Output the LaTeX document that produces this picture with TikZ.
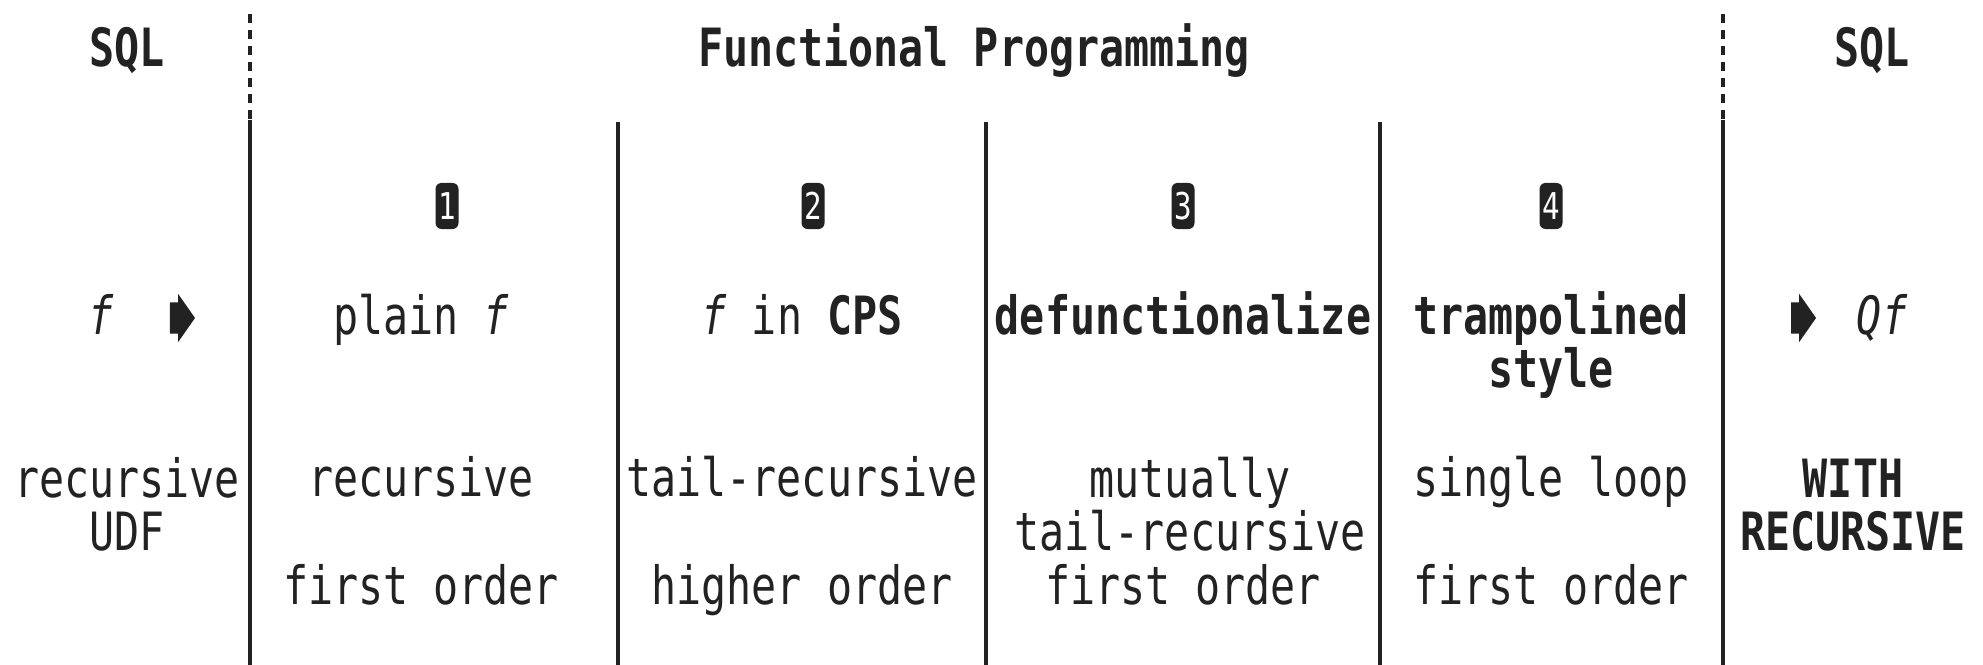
\documentclass[tikz,border=0pt]{standalone}
\usepackage{fontspec}
\setmonofont[FakeStretch=0.79]{DejaVu Sans Mono}
\usetikzlibrary{shapes.arrows}
\usepackage{xcolor}
\definecolor{ink}{HTML}{222222}

\begin{document}
\begin{tikzpicture}[
    x=0.01cm, y=-0.01cm,
    txt/.style={anchor=base, inner sep=0pt, align=center, text=ink,
        font=\ttfamily\fontsize{15}{15.3}\selectfont},
    head/.style={txt, font=\ttfamily\bfseries\fontsize{15}{15.3}\selectfont},
    badge/.style={fill=ink, rounded corners=0.06cm, inner sep=0pt,
        minimum width=0.23cm, minimum height=0.46cm, text=white,
        font=\ttfamily\fontsize{10.5}{10.5}\selectfont},
    fwd/.style={single arrow, fill=ink, inner sep=0pt, minimum height=0.25cm,
        single arrow head extend=0.085cm, single arrow tip angle=110},
    rule/.style={draw=ink, line width=1.1pt},
]
\useasboundingbox (0,0) rectangle (1983,665);

% shaft thickness of the block arrows
\newcommand{\shaft}{\vrule width 0pt height 0.15cm depth 0.15cm}

% ------------------------------------------------------------
%  column rules
% ------------------------------------------------------------
\draw[rule, dash pattern=on 0.09cm off 0.07cm] (250,14) -- (250,120);
\draw[rule] (250,120) -- (250,665);
\draw[rule, dash pattern=on 0.09cm off 0.07cm] (1723,14) -- (1723,120);
\draw[rule] (1723,120) -- (1723,665);
\foreach \xr in {618,986,1380} { \draw[rule] (\xr,122) -- (\xr,665); }

% ------------------------------------------------------------
%  headings
% ------------------------------------------------------------
\node[head] (sqlL) at (127,67) {SQL};
\node[head] (fp) at (974,67) {Functional Programming};
\node[head] (sqlR) at (1872,67) {SQL};

% step badges
\foreach \i/\xb in {1/447, 2/813, 3/1183, 4/1551} {
    \node[badge] (badge\i) at (\xb,206) {\i};
}

% ------------------------------------------------------------
%  source: recursive UDF
% ------------------------------------------------------------
\node[txt] (fSrc) at (101,335) {\itshape f};
\node[fwd] (arrL) at (177,318) {\shaft};
% multi-line nodes sit on the baseline of their last line
\node[txt] (udf) at (127,551) {recursive\\UDF};

% ------------------------------------------------------------
%  (1) .. (4)
% ------------------------------------------------------------
\node[txt] (plain) at (421,335) {plain \textit{f}};
\node[txt] (rec) at (421,497) {recursive};
\node[txt] (ord1) at (421,605) {first order};

\node[txt] (cps) at (802,335) {\textit{f} in \textbf{CPS}};
\node[txt] (tail) at (802,497) {tail-recursive};
\node[txt] (ord2) at (802,605) {higher order};

\node[head] (defun) at (1183,335) {defunctionalize};
\node[txt] (mutual) at (1190,551) {mutually\\tail-recursive};
\node[txt] (ord3) at (1183,605) {first order};

\node[head] (tramp) at (1551,388) {trampolined\\style};
\node[txt] (loop) at (1551,497) {single loop};
\node[txt] (ord4) at (1551,605) {first order};

% ------------------------------------------------------------
%  target: WITH RECURSIVE
% ------------------------------------------------------------
\node[fwd] (arrR) at (1798,318) {\shaft};
\node[txt] (qf) at (1882,335) {\itshape Qf};
\node[head] (withrec) at (1853,551) {WITH\\RECURSIVE};

\end{tikzpicture}
\end{document}
